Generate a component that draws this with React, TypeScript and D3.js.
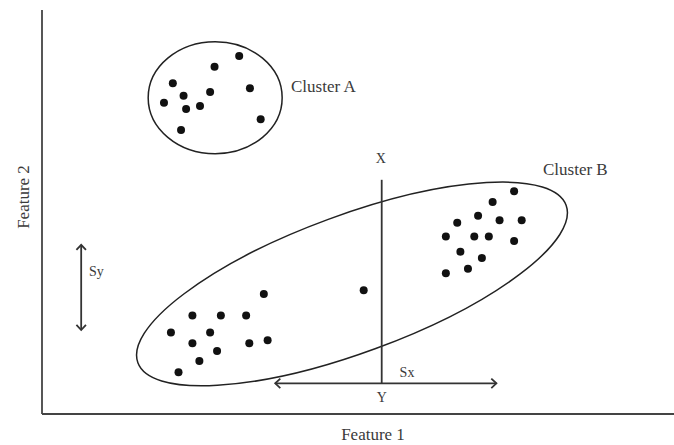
import { useRef, useEffect } from "react";
import * as d3 from "d3";

// Feature 1 / Feature 2 values (arbitrary units)
const clusterAX = [3.12, 2.73, 2.07, 3.29, 2.66, 2.24, 1.93, 2.5, 2.28, 3.46, 2.2];
const clusterAY = [5.67, 5.5, 5.24, 5.16, 5.1, 5.04, 4.93, 4.88, 4.83, 4.67, 4.5];

const clusterBRightX = [7.47, 7.13, 6.9, 7.24, 7.59, 6.57, 6.39, 6.84, 7.07, 7.47, 6.62, 6.96, 6.74, 6.39];
const clusterBRightY = [3.53, 3.36, 3.14, 3.07, 3.07, 3.03, 2.81, 2.81, 2.81, 2.74, 2.57, 2.47, 2.3, 2.23];

const clusterBLeftX = [3.51, 2.38, 2.83, 3.23, 2.04, 2.66, 2.38, 3.28, 3.57, 2.77, 2.49, 2.16];
const clusterBLeftY = [1.9, 1.56, 1.56, 1.56, 1.29, 1.29, 1.12, 1.12, 1.17, 1.0, 0.84, 0.66];

const outlierX = [5.09];
const outlierY = [1.96];

// ellipse: [cx, cy, rx, ry, angle(deg)]
const ellipseA = [2.74, 5.01, 1.06, 0.887, 0];
const ellipseB = [4.905, 2.06, 3.61, 1.09, 20.2];

// spread markers
const xLine = [5.375, 3.71, 0.486]; // x, yTop, yBottom
const sxArrow = [3.69, 7.19, 0.486]; // x0, x1, y
const syArrow = [0.62, 2.68, 1.33]; // x, y0, y1

const W = 674;
const H = 445;
const FONT = "'Liberation Serif', 'Times New Roman', serif";
const INK = "#222";

export default function App() {
  const svgRef = useRef<SVGSVGElement>(null);

  useEffect(() => {
    const svg = d3.select(svgRef.current);
    svg.selectAll("*").remove();

    const x = d3.scaleLinear().domain([0, 10]).range([42, 674]);
    const y = d3.scaleLinear().domain([0, 6.4]).range([414, 10]);

    svg.append("rect").attr("width", W).attr("height", H).attr("fill", "#fff");

    // axes (plain lines, no ticks)
    svg.append("line")
      .attr("x1", x(0)).attr("x2", x(0))
      .attr("y1", y(6.4)).attr("y2", y(0))
      .attr("stroke", "#444").attr("stroke-width", 1.8);
    svg.append("line")
      .attr("x1", x(0)).attr("x2", x(10))
      .attr("y1", y(0)).attr("y2", y(0))
      .attr("stroke", "#444").attr("stroke-width", 1.8);

    // ellipses
    const drawEllipse = (e: number[]) => {
      const [cx, cy, rx, ry, ang] = e;
      const px = x(cx), py = y(cy);
      svg.append("ellipse")
        .attr("cx", px).attr("cy", py)
        .attr("rx", x(rx) - x(0))
        .attr("ry", y(0) - y(ry))
        .attr("transform", `rotate(${-ang},${px},${py})`)
        .attr("fill", "none")
        .attr("stroke", INK)
        .attr("stroke-width", 1.5);
    };
    drawEllipse(ellipseA);
    drawEllipse(ellipseB);

    // points
    const pts = [
      ...d3.zip(clusterAX, clusterAY),
      ...d3.zip(clusterBRightX, clusterBRightY),
      ...d3.zip(clusterBLeftX, clusterBLeftY),
      ...d3.zip(outlierX, outlierY),
    ];
    svg.append("g").selectAll("circle")
      .data(pts)
      .join("circle")
      .attr("cx", (d) => x(d[0]))
      .attr("cy", (d) => y(d[1]))
      .attr("r", 4)
      .attr("fill", "#111");

    // vertical X line
    svg.append("line")
      .attr("x1", x(xLine[0])).attr("x2", x(xLine[0]))
      .attr("y1", y(xLine[1])).attr("y2", y(xLine[2]))
      .attr("stroke", "#333").attr("stroke-width", 1.8);

    // double arrows with open chevron heads
    const arrow = (x0: number, y0: number, x1: number, y1: number) => {
      svg.append("line")
        .attr("x1", x0).attr("y1", y0).attr("x2", x1).attr("y2", y1)
        .attr("stroke", "#333").attr("stroke-width", 1.8);
      const ang = Math.atan2(y1 - y0, x1 - x0);
      const head = (hx: number, hy: number, a: number) => {
        const L = 7, spread = 0.75;
        const p = d3.path();
        p.moveTo(hx - L * Math.cos(a - spread), hy - L * Math.sin(a - spread));
        p.lineTo(hx, hy);
        p.lineTo(hx - L * Math.cos(a + spread), hy - L * Math.sin(a + spread));
        svg.append("path").attr("d", p.toString())
          .attr("fill", "none").attr("stroke", "#333").attr("stroke-width", 1.8);
      };
      head(x1, y1, ang);
      head(x0, y0, ang + Math.PI);
    };
    arrow(x(sxArrow[0]), y(sxArrow[2]), x(sxArrow[1]), y(sxArrow[2]));
    arrow(x(syArrow[0]), y(syArrow[1]), x(syArrow[0]), y(syArrow[2]));

    const label = (t: string, tx: number, ty: number, size: number, anchor = "start") =>
      svg.append("text")
        .attr("x", tx).attr("y", ty)
        .attr("text-anchor", anchor)
        .attr("font-family", FONT)
        .attr("font-size", size)
        .attr("fill", "#3a3a3a")
        .text(t);

    label("Cluster A", 291, 92, 17);
    label("Cluster B", 543, 175, 17);
    label("X", x(xLine[0]) - 1, 163, 14, "middle");
    label("Y", x(xLine[0]), 402, 14, "middle");
    label("Sx", 407, 377, 14, "middle");
    label("Sy", 89, 276, 14);
    label("Feature 1", 373, 440, 17, "middle");

    svg.append("text")
      .attr("transform", `translate(23,197) rotate(-90)`)
      .attr("text-anchor", "middle")
      .attr("dy", "0.35em")
      .attr("font-family", FONT)
      .attr("font-size", 17)
      .attr("fill", "#3a3a3a")
      .text("Feature 2");
  }, []);

  return (
    <svg
      ref={svgRef}
      width={W}
      height={H}
      style={{ position: "absolute", left: 0, top: 0 }}
    />
  );
}
